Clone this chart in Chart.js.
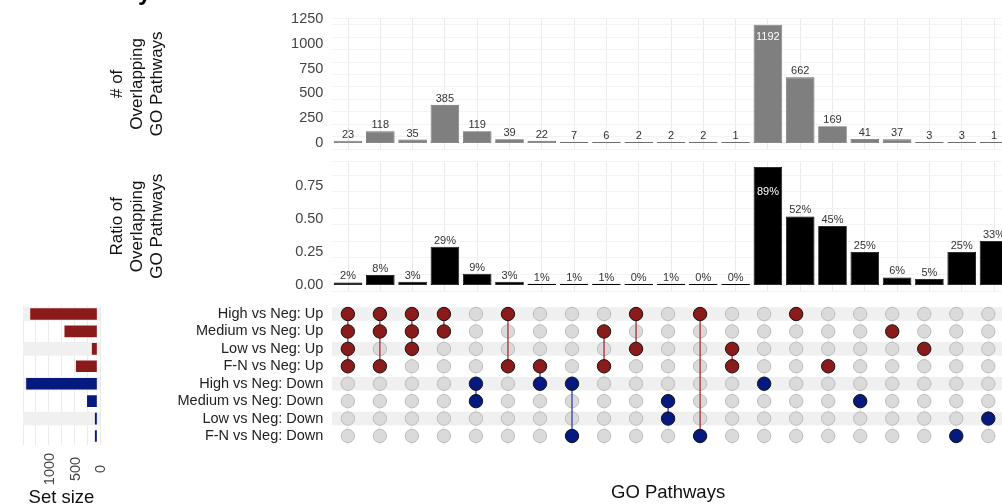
<!DOCTYPE html>
<html>
<head>
<meta charset="utf-8">
<script src="https://cdn.jsdelivr.net/npm/chart.js@4.4.1/dist/chart.umd.min.js"></script>
<style>
  html, body { margin: 0; padding: 0; background: #fff; overflow: hidden; width: 1002px; height: 504px; }
  #wrap { position: relative; width: 1002px; height: 504px; overflow: hidden; }
  canvas { position: absolute; }
</style>
</head>
<body>
<div id="wrap">
  <canvas id="countChart" width="1012" height="150" style="left:0px;top:0px"></canvas>
  <canvas id="ratioChart" width="1012" height="146" style="left:0px;top:150px"></canvas>
  <canvas id="matrixChart" width="902" height="208" style="left:110px;top:296px"></canvas>
  <canvas id="setChart" width="110" height="208" style="left:0px;top:296px"></canvas>
</div>
<script>
// sets (rows of the matrix), top to bottom
const sets = ['High vs Neg: Up', 'Medium vs Neg: Up', 'Low vs Neg: Up', 'F-N vs Neg: Up',
              'High vs Neg: Down', 'Medium vs Neg: Down', 'Low vs Neg: Down', 'F-N vs Neg: Down'];
const setSizes = [1300, 625, 85, 400, 1380, 180, 25, 25];
const setTicks = [0, 500, 1000];

// intersections, left to right: which sets take part
const members = [[0,1,2,3],[0,1,3],[0,1,2],[0,1],[4,5],[0,3],[3,4],[4,7],[1,3],[0,2],
                 [5,6],[0,7],[2,3],[4],[0],[3],[5],[1],[2],[7],[6]];
const counts = [23, 118, 35, 385, 119, 39, 22, 7, 6, 2, 2, 2, 1, 1192, 662, 169, 41, 37, 3, 3, 1];
const ratios = [0.02, 0.076, 0.025, 0.29, 0.086, 0.026, 0.01, 0.01, 0.01, 0.003, 0.01, 0.003, 0.003,
                0.894, 0.52, 0.447, 0.25, 0.058, 0.046, 0.25, 0.334];
const countTicks = [0, 250, 500, 750, 1000, 1250];
const ratioTicks = [0, 0.25, 0.5, 0.75];
// intersections whose connecting line is drawn blue
const blueLinks = [4, 6, 7, 10];

const labels = members.map((m, i) => 'I' + (i + 1));

const RED = '#8b1a1a';
const BLUE = '#06197f';
const FONT = '"Liberation Sans", Arial, sans-serif';
Chart.defaults.font.family = FONT;
Chart.defaults.animation = false;
Chart.defaults.events = [];

const PLOT_LEFT = 331.85;   // left edge of the intersection panels (page px)
const PLOT_RIGHT = 1010.15;

// fix axis boxes to exact sizes, no extra label padding
const fixW = w => s => { s.width = w; s.paddingTop = 0; s.paddingBottom = 0; };
const fixH = h => s => { s.height = h; s.paddingLeft = 0; s.paddingRight = 0; };

function makeBarLabels(pct, inside) {
  return {
    id: 'barLabels',
    afterDatasetsDraw(chart) {
      const ctx = chart.ctx;
      const vals = chart.data.datasets[0].data;
      const top = Math.max(...vals);
      ctx.save();
      ctx.font = '11px ' + FONT;
      ctx.textAlign = 'center';
      ctx.textBaseline = 'middle';
      chart.getDatasetMeta(0).data.forEach((bar, i) => {
        const v = vals[i];
        const txt = pct ? Math.round(v * 100) + '%' : String(v);
        if (v === top) {
          ctx.fillStyle = '#fff';
          ctx.fillText(txt, bar.x, bar.y + inside);
        } else {
          ctx.fillStyle = '#333';
          ctx.fillText(txt, bar.x, bar.y - 6);
        }
      });
      ctx.restore();
    }
  };
}

// y tick labels of the upper panels
function makeYLabels(tickVals, digits) {
  return {
    id: 'yLabels',
    afterDraw(chart) {
      const ctx = chart.ctx, y = chart.scales.y;
      ctx.save();
      ctx.font = '14.5px ' + FONT;
      ctx.fillStyle = '#444';
      ctx.textAlign = 'right';
      ctx.textBaseline = 'middle';
      tickVals.forEach(v => {
        ctx.fillText(v.toFixed(digits), chart.chartArea.left - 8.5, y.getPixelForValue(v));
      });
      ctx.restore();
    }
  };
}

const titleCut = {
  id: 'titleCut',
  afterDraw(chart) {
    const ctx = chart.ctx;
    ctx.save();
    ctx.font = 'bold 24px ' + FONT;
    ctx.fillStyle = '#000';
    ctx.textBaseline = 'alphabetic';
    ctx.fillText('GO Pathways', 10, 0);
    ctx.restore();
  }
};

const stripes = {
  id: 'stripes',
  beforeDatasetsDraw(chart) {
    const ctx = chart.ctx, a = chart.chartArea, y = chart.scales.y;
    ctx.save();
    ctx.fillStyle = '#f0f0f0';
    for (let i = 0; i < sets.length; i += 2) {
      const py = y.getPixelForValue(i);
      ctx.fillRect(a.left, py - 6.8, a.right - a.left, 13.6);
    }
    ctx.restore();
  }
};

function upperPanel(id, values, yMin, yMax, step, tickVals, digits, title, padTop, padBottom, barColor, pct, inside) {
  const major = tickVals[1] - tickVals[0];
  return new Chart(document.getElementById(id), {
    type: 'bar',
    data: {
      labels: labels,
      datasets: [{
        data: values,
        backgroundColor: barColor,
        borderColor: barColor === '#000' ? '#000' : '#6e6e6e',
        borderWidth: 0.8,
        borderSkipped: false,
        minBarLength: 1,
        categoryPercentage: 1,
        barPercentage: 0.885
      }]
    },
    options: {
      responsive: false,
      layout: { padding: { left: 108, right: 1012 - PLOT_RIGHT, top: padTop, bottom: padBottom } },
      plugins: { legend: { display: false }, tooltip: { enabled: false } },
      scales: {
        x: {
          type: 'category', offset: true,
          grid: { offset: false, color: '#ebebeb', drawTicks: false },
          border: { display: false },
          ticks: { display: false },
          afterFit: fixH(0)
        },
        y: {
          min: yMin, max: yMax, bounds: 'data',
          grid: {
            color: c => {
              const v = c.tick ? c.tick.value : 0;
              return Math.abs(Math.round(v / major) * major - v) < 1e-6 ? '#e6e6e6' : '#f3f3f3';
            },
            drawTicks: false
          },
          border: { display: false },
          ticks: { display: false, stepSize: step, includeBounds: false, autoSkip: false },
          title: {
            display: true, text: title, color: '#111', padding: 0,
            font: { size: 17, lineHeight: 1.15 }
          },
          afterFit: fixW(PLOT_LEFT - 108)
        }
      }
    },
    plugins: id === 'countChart'
      ? [makeBarLabels(pct, inside), makeYLabels(tickVals, digits), titleCut]
      : [makeBarLabels(pct, inside), makeYLabels(tickVals, digits)]
  });
}

upperPanel('countChart', counts, -60, 1253, 125, countTicks, 0,
  ['# of', 'Overlapping', 'GO Pathways'], 18.7, 1, '#7f7f7f', false, 12);

upperPanel('ratioChart', ratios, -0.045, 0.935, 0.125, ratioTicks, 2,
  ['Ratio of', 'Overlapping', 'GO Pathways'], 11.6, 5, '#000', true, 24.5);

// matrix of dots
const greyDots = [], redDots = [], blueDots = [], linkSets = [];
members.forEach((m, c) => {
  sets.forEach((s, r) => {
    const p = { x: labels[c], y: s };
    if (!m.includes(r)) greyDots.push(p);
    else if (r < 4) redDots.push(p);
    else blueDots.push(p);
  });
  if (m.length > 1) {
    linkSets.push({
      data: [{ x: labels[c], y: sets[Math.min(...m)] }, { x: labels[c], y: sets[Math.max(...m)] }],
      showLine: true, pointRadius: 0, borderWidth: 1.2,
      borderColor: blueLinks.includes(c) ? '#2636a0' : '#a02222',
      order: 2
    });
  }
});

new Chart(document.getElementById('matrixChart'), {
  type: 'scatter',
  data: {
    datasets: [
      { data: redDots, pointRadius: 6.7, backgroundColor: RED, borderColor: '#151515', borderWidth: 1, order: 0 },
      { data: blueDots, pointRadius: 6.7, backgroundColor: BLUE, borderColor: '#151515', borderWidth: 1, order: 0 },
      ...linkSets,
      { data: greyDots, pointRadius: 6.7, backgroundColor: '#dadada', borderColor: '#bdbdbd', borderWidth: 1, order: 3 }
    ]
  },
  options: {
    responsive: false,
    clip: false,
    layout: { padding: { left: 0, right: 1012 - PLOT_RIGHT, top: 9.3, bottom: 0 } },
    plugins: { legend: { display: false }, tooltip: { enabled: false } },
    scales: {
      x: {
        type: 'category', labels: labels, offset: true,
        grid: { offset: false, color: '#ebebeb', drawTicks: false },
        border: { display: false },
        ticks: { display: false },
        title: { display: true, text: 'GO Pathways', color: '#111', padding: 0, font: { size: 18.5, lineHeight: 1.2 } },
        afterFit: fixH(208 - 148.7)
      },
      y: {
        type: 'category', labels: sets, offset: true,
        grid: { display: false, drawTicks: false },
        border: { display: false },
        ticks: { color: '#222', font: { size: 14.5 }, padding: 8.5, autoSkip: false },
        afterFit: fixW(PLOT_LEFT - 110)
      }
    }
  },
  plugins: [stripes]
});

// set size bars
const setAxisText = {
  id: 'setAxisText',
  afterDraw(chart) {
    const ctx = chart.ctx, x = chart.scales.x;
    ctx.save();
    ctx.fillStyle = '#444';
    ctx.font = '14.5px ' + FONT;
    ctx.textAlign = 'center';
    ctx.textBaseline = 'middle';
    setTicks.forEach(v => {
      ctx.save();
      ctx.translate(x.getPixelForValue(v) + 4.5, 173);
      ctx.rotate(-Math.PI / 2);
      ctx.fillText(String(v), 0, 0);
      ctx.restore();
    });
    ctx.fillStyle = '#111';
    ctx.font = '18.5px ' + FONT;
    ctx.textBaseline = 'alphabetic';
    ctx.fillText('Set size', (chart.chartArea.left + chart.chartArea.right) / 2, 206.5);
    ctx.restore();
  }
};

new Chart(document.getElementById('setChart'), {
  type: 'bar',
  data: {
    labels: sets,
    datasets: [{
      data: setSizes,
      backgroundColor: sets.map((s, i) => i < 4 ? RED : BLUE),
      barThickness: 11
    }]
  },
  options: {
    responsive: false,
    indexAxis: 'y',
    layout: { padding: { left: 23, right: 10, top: 9.3, bottom: 0 } },
    plugins: { legend: { display: false }, tooltip: { enabled: false } },
    scales: {
      x: {
        type: 'linear', min: -69, max: 1449, reverse: true, bounds: 'data',
        grid: { color: '#ebebeb', drawTicks: false },
        border: { display: false },
        ticks: { display: false, stepSize: 250, includeBounds: false },
        afterFit: fixH(208 - 148.7)
      },
      y: { type: 'category', display: false, offset: true }
    }
  },
  plugins: [stripes, setAxisText]
});
</script>
</body>
</html>
